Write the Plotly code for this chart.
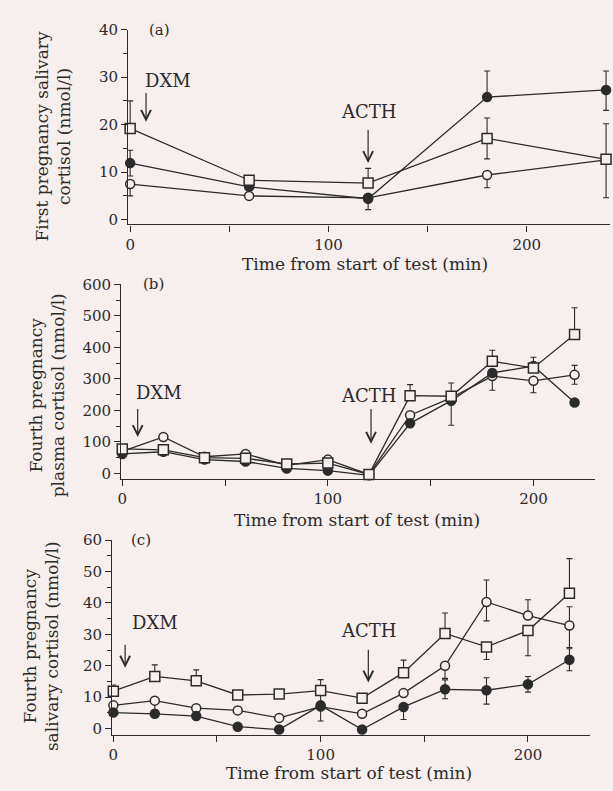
import plotly.graph_objects as go

# ---------------- data ----------------
# (a) First pregnancy salivary cortisol (nmol/l)
t_a = [0, 60, 120, 180, 240]
a_square = [19.2, 8.3, 7.7, 17.1, 12.7]
a_square_up = [5.8, 0, 3.1, 4.3, 7.5]
a_square_dn = [0, 0, 0, 4.3, 0]
a_circle = [7.5, 5.0, 4.6, 9.4, 12.6]
a_circle_up = [0, 0, 0, 0, 0]
a_circle_dn = [2.5, 0, 0, 2.7, 8.0]
a_filled = [11.9, 6.9, 4.4, 25.8, 27.3]
a_filled_up = [2.7, 0, 0, 5.5, 4.0]
a_filled_dn = [2.7, 0, 2.3, 0, 4.3]

# (b) Fourth pregnancy plasma cortisol (nmol/l)
t_b = [0, 20, 40, 60, 80, 100, 120, 140, 160, 180, 200, 220]
b_square = [78, 75, 50, 48, 30, 33, -3, 247, 245, 356, 335, 441]
b_square_up = [0, 0, 0, 0, 0, 0, 0, 35, 42, 35, 0, 85]
b_square_dn = [0, 0, 0, 0, 0, 0, 0, 0, 0, 0, 0, 0]
b_circle = [70, 116, 53, 62, 26, 44, -3, 185, 240, 309, 294, 313]
b_circle_up = [0, 0, 0, 0, 0, 0, 0, 0, 0, 0, 0, 30]
b_circle_dn = [0, 0, 0, 0, 0, 0, 0, 0, 0, 45, 38, 30]
b_filled = [62, 69, 44, 38, 16, 9, -6, 159, 231, 319, 341, 225]
b_filled_up = [0, 0, 0, 0, 0, 0, 0, 0, 0, 0, 28, 0]
b_filled_dn = [0, 0, 0, 0, 0, 0, 0, 0, 78, 0, 0, 0]

# (c) Fourth pregnancy salivary cortisol (nmol/l)
t_c = [0, 20, 40, 60, 80, 100, 120, 140, 160, 180, 200, 220]
c_square = [11.9, 16.6, 15.2, 10.7, 11.0, 12.1, 9.7, 17.8, 30.3, 26.0, 31.2, 43.1]
c_square_up = [2.0, 3.7, 3.5, 0, 0, 3.5, 0, 4.0, 6.5, 0, 0, 11.0]
c_square_dn = [0, 0, 0, 0, 0, 0, 0, 0, 0, 4.0, 8.0, 0]
c_circle = [7.4, 8.9, 6.5, 5.8, 3.4, 7.0, 4.7, 11.3, 20.0, 40.3, 36.0, 32.8]
c_circle_up = [0, 0, 0, 0, 0, 0, 0, 0, 0, 7.0, 5.0, 6.0]
c_circle_dn = [0, 3.0, 0, 0, 0, 0, 0, 0, 4.0, 6.0, 0, 7.0]
c_filled = [5.1, 4.7, 4.0, 0.6, -0.3, 7.4, -0.3, 6.9, 12.5, 12.2, 14.1, 21.9]
c_filled_up = [0, 0, 0, 0, 0, 5.0, 0, 0, 3.0, 4.0, 2.5, 3.5]
c_filled_dn = [0, 0, 0, 0, 0, 5.0, 0, 4.0, 3.0, 4.4, 2.5, 3.5]

x_title = "Time from start of test (min)"
y_titles = ["First pregnancy salivary<br>cortisol (nmol/l)",
            "Fourth pregnancy<br>plasma cortisol (nmol/l)",
            "Fourth pregnancy<br>salivary cortisol (nmol/l)"]
panel_labels = ["(a)", "(b)", "(c)"]

# ---------------- style ----------------
W, H = 613, 791
BG = "#f7efee"
INK = "#2b2b2b"
FONT = "DejaVu Serif"


def px(p):
    return p / W


def py(p):
    return 1 - p / H


fig = go.Figure()


def add_series(t, y, up, dn, symbol, filled, xa, ya, size):
    fig.add_trace(go.Scatter(
        x=t, y=y, mode="lines+markers", xaxis=xa, yaxis=ya,
        line=dict(color=INK, width=1.3),
        marker=dict(symbol=symbol, size=size,
                    color=INK if filled else BG,
                    line=dict(color=INK, width=1.5)),
        error_y=dict(type="data", symmetric=False, array=up, arrayminus=dn,
                     color=INK, thickness=1.1, width=3),
        cliponaxis=False, showlegend=False, hoverinfo="skip"))


panels = [
    (t_a, [(a_circle, a_circle_up, a_circle_dn, "circle", False, 9),
           (a_filled, a_filled_up, a_filled_dn, "circle", True, 9),
           (a_square, a_square_up, a_square_dn, "square", False, 10)]),
    (t_b, [(b_circle, b_circle_up, b_circle_dn, "circle", False, 9),
           (b_filled, b_filled_up, b_filled_dn, "circle", True, 9),
           (b_square, b_square_up, b_square_dn, "square", False, 10)]),
    (t_c, [(c_circle, c_circle_up, c_circle_dn, "circle", False, 9),
           (c_filled, c_filled_up, c_filled_dn, "circle", True, 9),
           (c_square, c_square_up, c_square_dn, "square", False, 10)]),
]
axes = [("x", "y"), ("x2", "y2"), ("x3", "y3")]
for (t, series), (xa, ya) in zip(panels, axes):
    for s in series:
        add_series(t, s[0], s[1], s[2], s[3], s[4], xa, ya, s[5])

# axis geometry (pixels)
xdom = [(125, 610), (118, 595), (109, 590)]
ydom = [(21, 219), (280, 478), (540, 738)]
xrng = [(-1, 242), (-0.5, 230), (-0.5, 230)]
yrng = [(-1, 40), (-18, 600), (-2, 60)]
ydt = [10, 100, 10]

tickfont = dict(family=FONT, size=15, color=INK)
layout = dict(width=W, height=H, margin=dict(l=0, r=0, t=0, b=0),
              paper_bgcolor=BG, plot_bgcolor=BG, showlegend=False)
for i in range(3):
    sx = "xaxis" if i == 0 else f"xaxis{i+1}"
    sy = "yaxis" if i == 0 else f"yaxis{i+1}"
    yid = "y" if i == 0 else f"y{i+1}"
    xid = "x" if i == 0 else f"x{i+1}"
    layout[sx] = dict(domain=[px(xdom[i][0]), px(xdom[i][1])], range=list(xrng[i]),
                      anchor=yid, showline=True, linecolor=INK, linewidth=1.4,
                      ticks="outside", ticklen=6, tickwidth=1.2, tickcolor=INK,
                      tick0=0, dtick=100, showgrid=False, zeroline=False,
                      tickfont=tickfont,
                      minor=dict(dtick=50, ticks="outside", ticklen=6, tickwidth=1.2,
                                 tickcolor=INK, showgrid=False))
    layout[sy] = dict(domain=[py(ydom[i][1]), py(ydom[i][0])], range=list(yrng[i]),
                      anchor=xid, showline=True, linecolor=INK, linewidth=1.4,
                      ticks="outside", ticklen=6, tickwidth=1.2, tickcolor=INK,
                      tick0=0, dtick=ydt[i], showgrid=False, zeroline=False,
                      tickfont=tickfont,
                      minor=dict(dtick=ydt[i] / 2, ticks="outside", ticklen=4,
                                 tickwidth=1.1, tickcolor=INK, showgrid=False))
fig.update_layout(**layout)

ann = []
# axis titles
xt_pos = [(363, 259), (355, 520), (347, 777)]
yt_pos = [(49, 130), (43, 393), (38, 648)]
lab_pos = [(157, 21), (150, 280), (138, 540)]
for i in range(3):
    ann.append(dict(text=x_title, xref="paper", yref="paper",
                    x=px(xt_pos[i][0]), y=py(xt_pos[i][1]), showarrow=False,
                    xanchor="center", yanchor="middle",
                    font=dict(family=FONT, size=17, color=INK)))
    ann.append(dict(text=y_titles[i], xref="paper", yref="paper", textangle=-90,
                    x=px(yt_pos[i][0]), y=py(yt_pos[i][1]), showarrow=False,
                    xanchor="center", yanchor="middle",
                    font=dict(family=FONT, size=17, color=INK)))
    ann.append(dict(text=panel_labels[i], xref="paper", yref="paper",
                    x=px(lab_pos[i][0]), y=py(lab_pos[i][1]), showarrow=False,
                    xanchor="center", yanchor="middle",
                    font=dict(family=FONT, size=15, color=INK)))

# event markers: (text, text x, text y, arrow x, arrow tip y, arrow tail y)
events = [
    [("DXM", 19, 29.2, 8, 20.6, 27.0), ("ACTH", 120, 22.7, 120, 11.9, 19.2)],
    [("DXM", 18, 256, 7.5, 116, 209), ("ACTH", 120, 247, 121, 94, 209)],
    [("DXM", 20, 33.8, 5.7, 19.4, 27.2), ("ACTH", 123, 31.3, 123, 14.7, 25.6)],
]
for i, evs in enumerate(events):
    xid = "x" if i == 0 else f"x{i+1}"
    yid = "y" if i == 0 else f"y{i+1}"
    for (txt, tx, ty, axx, tip, tail) in evs:
        ann.append(dict(text=txt, xref=xid, yref=yid, x=tx, y=ty, showarrow=False,
                        xanchor="center", yanchor="middle",
                        font=dict(family=FONT, size=18, color=INK)))
        ann.append(dict(text="", xref=xid, yref=yid, x=axx, y=tip,
                        axref=xid, ayref=yid, ax=axx, ay=tail, showarrow=True,
                        arrowhead=5, arrowsize=1.6, arrowwidth=1.2,
                        arrowcolor=INK))
fig.update_layout(annotations=ann)

fig.write_html("out.html",
               config={"displayModeBar": False},
               post_script="document.body.style.margin='0';"
                           "document.body.style.overflow='hidden';"
                           "document.body.style.background='" + BG + "';")
